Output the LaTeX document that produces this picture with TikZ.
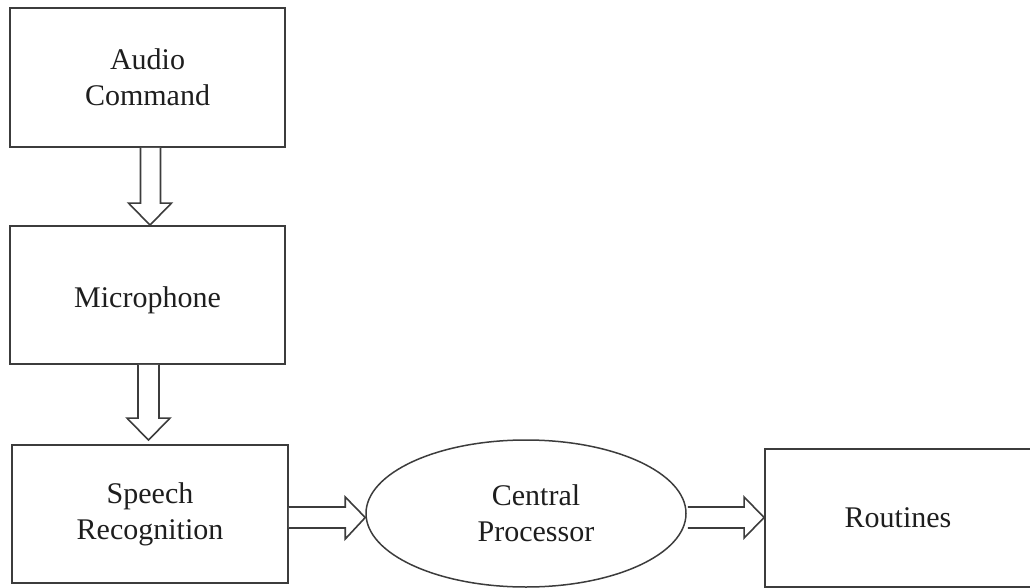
\documentclass[tikz,border=0pt]{standalone}
\usepackage{fontspec}
\setmainfont{Liberation Serif}
\usetikzlibrary{shapes.geometric,calc}
\definecolor{linec}{HTML}{3C3C3C}
\definecolor{txtc}{HTML}{1E1E1E}
\begin{document}
\begin{tikzpicture}[x=1pt,y=-1pt,
  every node/.style={font=\fontsize{30}{36}\selectfont, text=txtc},
  blk/.style={draw=linec, line width=1.8pt, rectangle, inner sep=0pt, align=center},
  oval/.style={draw=linec, line width=1.5pt, ellipse, inner sep=0pt, align=center,
    minimum width=320pt, minimum height=147pt},
  barrow/.style={draw=linec, line width=1.6pt, fill=white, line join=miter}]
\useasboundingbox (0,0) rectangle (1030,588);
\node[blk, minimum width=275pt, minimum height=139pt] (audio) at (147.5,77.5) {Audio\\Command};
\node[blk, minimum width=275pt, minimum height=138pt, text height=25pt, text depth=1pt] (mic) at (147.5,295) {Microphone};
\node[blk, minimum width=276pt, minimum height=138pt] (speech) at (150,514) {Speech\\Recognition};
\node[oval] (cpu) at (526,513.5) {\hspace*{20pt}Central\\\hspace*{20pt}Processor};
\node[blk, minimum width=268pt, minimum height=138pt] (rout) at (899,518) {\hspace*{-2pt}Routines};
% block arrow 1
\draw[barrow] ($(audio.south)+(-7,0)$) -- ($(mic.north)+(-7,-22)$) -- ($(mic.north)+(-19,-22)$)
  -- ($(mic.north)+(2.5,0)$) -- ($(mic.north)+(24,-22)$) -- ($(mic.north)+(13,-22)$)
  -- ($(audio.south)+(13,0)$);
% block arrow 2
\draw[barrow] ($(mic.south)+(-9.5,0)$) -- ($(speech.north)+(-12,-26)$) -- ($(speech.north)+(-23,-26)$)
  -- ($(speech.north)+(-1.5,-4)$) -- ($(speech.north)+(20,-26)$) -- ($(speech.north)+(9,-26)$)
  -- ($(mic.south)+(11.5,0)$);
% block arrow 3
\draw[barrow] ($(speech.east)+(0,-7)$) -- ($(cpu.west)+(-20,-6.5)$) -- ($(cpu.west)+(-20,-16.5)$)
  -- ($(cpu.west)+(0,4)$) -- ($(cpu.west)+(-20,25.5)$) -- ($(cpu.west)+(-20,14.5)$)
  -- ($(speech.east)+(0,14)$);
% block arrow 4
\draw[barrow] ($(cpu.east)+(1,-6.5)$) -- ($(rout.west)+(-20,-11)$) -- ($(rout.west)+(-20,-21)$)
  -- ($(rout.west)+(0,-0.5)$) -- ($(rout.west)+(-20,20)$) -- ($(rout.west)+(-20,10)$)
  -- ($(cpu.east)+(1,14.5)$);
\end{tikzpicture}
\end{document}
